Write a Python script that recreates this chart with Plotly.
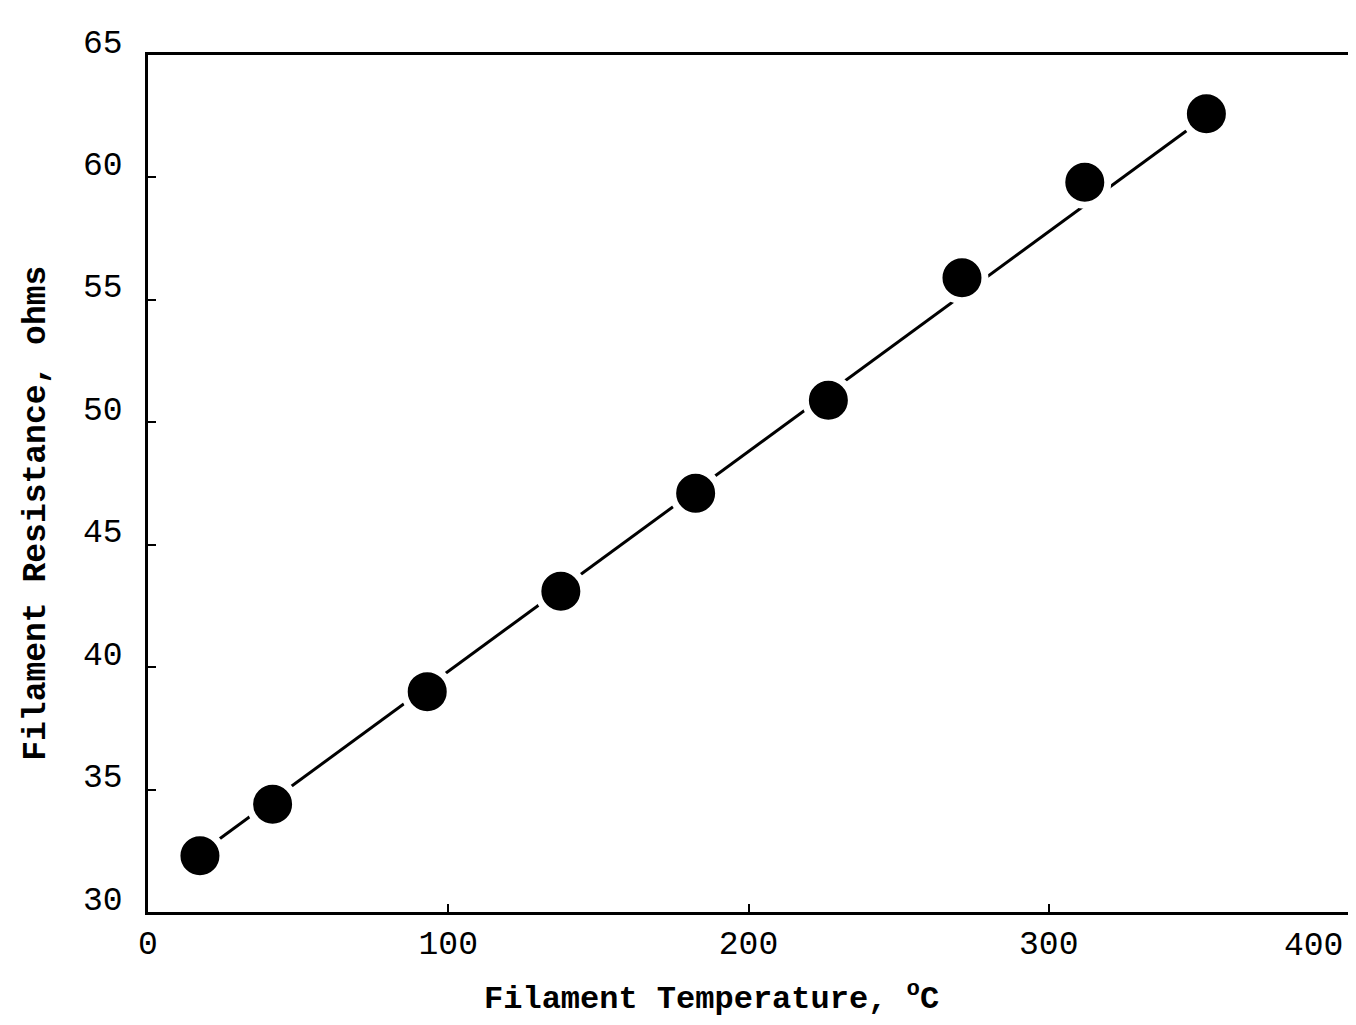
import plotly.graph_objects as go

temperature = [17.3, 41.5, 93.0, 137.5, 182.4, 226.6, 271.1, 312.0, 352.5]
resistance = [32.3, 34.4, 39.0, 43.1, 47.1, 50.9, 55.9, 59.8, 62.6]

# straight fitted line drawn through the points
fit_temperature = [17.3, 352.5]
fit_resistance = [32.4, 62.5]

x_ticks = [0, 100, 200, 300, 400]
x_labels = ["0", "100", "200", "300", "400"]
y_ticks = [30, 35, 40, 45, 50, 55, 60, 65]

typewriter = "Liberation Mono"
pad = "&nbsp;"

fig = go.Figure()

fig.add_trace(go.Scatter(
    x=fit_temperature,
    y=fit_resistance,
    mode="lines",
    line=dict(color="black", width=3),
    hoverinfo="skip",
    showlegend=False
))

fig.add_trace(go.Scatter(
    x=temperature,
    y=resistance,
    mode="markers",
    marker=dict(color="black", size=46, line=dict(color="white", width=7)),
    showlegend=False
))

# the last label sits just left of the corner in the original,
# so it is drawn as an annotation anchored at its tick instead
fig.add_annotation(
    x=x_ticks[-1],
    xref="x",
    y=0,
    yref="paper",
    text=x_labels[-1],
    showarrow=False,
    xanchor="right",
    yanchor="top",
    xshift=-4,
    yshift=-14,
    font=dict(size=33, family=typewriter, color="black")
)

fig.update_layout(
    width=1348,
    height=1010,
    paper_bgcolor="white",
    plot_bgcolor="white",
    margin=dict(l=140, r=4, t=47, b=106, autoexpand=False),
    font=dict(family=typewriter, color="black"),
    xaxis=dict(
        range=[0, 401],
        automargin=False,
        tickvals=x_ticks,
        ticktext=x_labels[:-1] + [""],
        ticks="inside",
        ticklen=8,
        tickwidth=2,
        tickcolor="black",
        showline=True,
        linecolor="black",
        linewidth=2.5,
        mirror=True,
        showgrid=False,
        zeroline=False,
        tickfont=dict(size=33, family=typewriter),
        title=dict(
            text="<b>Filament Temperature, <sup>o</sup>C</b>" + pad * 4,
            font=dict(size=32, family=typewriter),
            standoff=28
        )
    ),
    yaxis=dict(
        range=[30, 65],
        automargin=False,
        tickvals=y_ticks,
        ticks="inside",
        ticklen=8,
        tickwidth=2,
        tickcolor="black",
        showline=True,
        linecolor="black",
        linewidth=2.5,
        mirror=True,
        showgrid=False,
        zeroline=False,
        tickfont=dict(size=33, family=typewriter),
        ticklabelstandoff=16,
        ticklabelshift=-14,
        title=dict(
            text="<b>Filament Resistance, ohms</b>" + pad * 3,
            font=dict(size=33, family=typewriter),
            standoff=28
        )
    )
)

fig.write_html("out.html")
